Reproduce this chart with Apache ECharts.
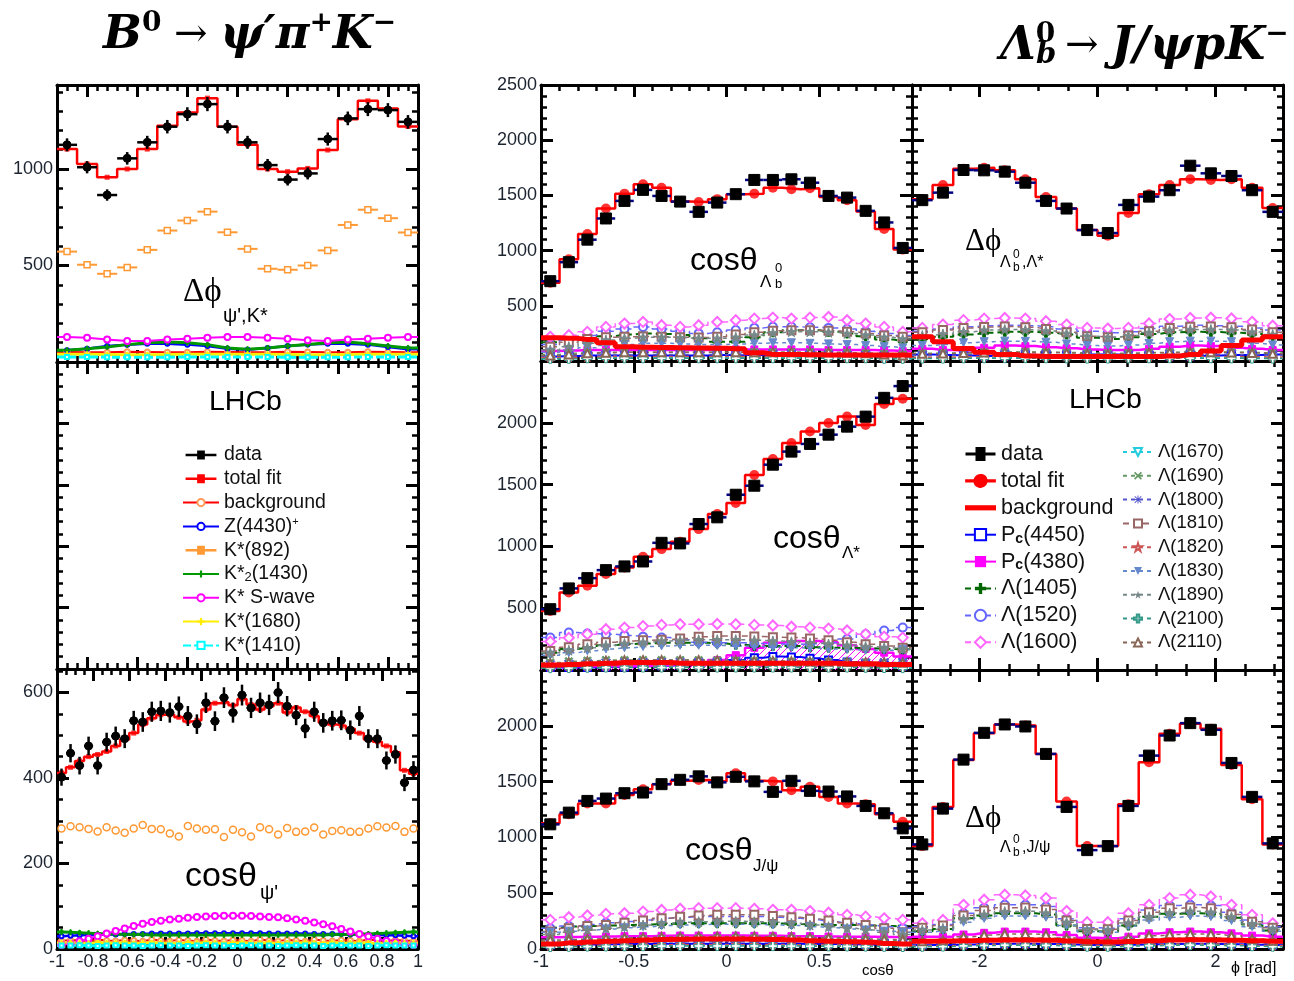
<!DOCTYPE html>
<html><head><meta charset="utf-8">
<script src="https://cdn.jsdelivr.net/npm/echarts@6/dist/echarts.min.js"></script>
<style>html,body{margin:0;padding:0;background:#fff}#c{width:1294px;height:981px}</style>
</head><body><div id="c"></div><script>
// ================= DATA =================
// B0 -> psi' pi+ K-  : Delta phi (18 bins, -180..180 deg)
const LT_DATA  = [1125,1009,865,1055,1138,1219,1284,1336,1219,1138,1020,945,977,1155,1262,1310,1305,1244];
const LT_FIT   = [1103,1026,957,1000,1103,1224,1293,1367,1219,1125,1000,986,1003,1098,1258,1353,1313,1220];
const LT_K892  = [572,504,457,490,581,681,733,779,672,586,483,478,500,578,710,789,745,671];
const LT_BKG   = [52,50,51,53,52,50,51,53,52,50,51,53,52,50,51,53,52,50];
const LT_Z4430 = [61,69,83,90,95,95,90,83,69,64,73,83,91,95,95,90,78,66];
const LT_K1430 = [61,69,78,90,100,104,100,90,73,66,73,83,91,100,104,95,83,73];
const LT_SWAVE = [130,125,116,109,109,116,121,126,130,130,126,121,113,109,116,121,125,130];
const LT_K1680 = [40,40,39,38,38,39,40,40,40,40,40,39,38,38,39,40,40,40];
const LT_K1410 = [26,26,25,25,25,25,26,26,26,26,26,25,25,25,25,26,26,26];
// B0 : cos theta psi' (40 bins, -1..1)
const LB_DATA  = [402,458,429,475,429,484,498,492,534,531,555,557,553,567,545,526,576,533,588,553,594,564,576,571,600,568,547,516,555,529,534,535,512,545,492,492,441,455,389,419];
const LB_FIT   = [412,425,440,450,455,462,475,490,505,525,540,548,548,542,532,535,560,575,578,570,585,572,560,568,575,553,565,555,545,530,525,522,515,505,490,485,475,460,418,410];
const LB_K892  = [282,287,285,281,275,285,277,272,282,290,281,280,270,263,288,282,279,280,262,279,273,263,285,280,268,283,274,275,284,268,276,278,274,274,282,287,284,288,274,282];
const LB_BKG   = [19,21,20,18,22,20,19,21,20,18,22,20,19,21,20,18,22,20,19,21,20,18,22,20,19,21,20,18,22,20,19,21,20,18,22,20,19,21,20,19];
const LB_Z4430 = [30,31,32,33,33,34,34,35,35,35,36,36,36,36,36,37,37,37,37,37,37,37,37,36,36,36,36,36,35,35,35,35,34,34,33,33,32,32,31,30];
const LB_K1430 = [40,39,38,37,36,35,35,34,34,34,33,33,33,33,33,33,33,33,33,33,33,33,33,33,33,33,33,33,33,33,34,34,34,35,35,36,37,38,39,40];
const LB_SWAVE = [10,13,18,24,30,36,42,48,54,59,63,66,69,71,73,75,76,77,78,78,78,77,76,75,74,72,69,66,62,58,53,47,41,35,29,24,19,15,12,10];
const LB_K1680 = [14,15,14,13,15,14,14,15,13,14,15,14,14,13,15,14,15,14,13,14,15,14,14,15,13,14,14,15,14,13,15,14,14,15,14,13,14,15,14,14];
const LB_K1410 = [8,8,9,8,7,8,9,8,8,7,8,9,8,8,7,8,9,8,8,7,8,9,8,8,7,8,9,8,8,7,8,9,8,8,7,8,9,8,8,8];

// Lambda_b -> J/psi p K- : cos theta Lambda_b (20 bins)
const TL_DATA   = [723,895,1099,1291,1450,1550,1495,1444,1351,1435,1511,1640,1640,1646,1615,1495,1480,1360,1255,1024];
const TL_FIT    = [709,922,1150,1381,1516,1601,1570,1444,1441,1466,1511,1516,1570,1556,1565,1486,1457,1354,1195,1009];
const TL_BKG    = [210,205,195,165,130,125,122,120,118,115,112,75,60,58,56,55,55,55,55,55];
const TL_PC4450 = [40,45,50,50,50,50,50,50,50,55,55,55,55,55,55,50,50,50,45,40];
const TL_PC4380 = [90,95,100,100,100,100,100,100,100,105,105,105,105,105,105,100,100,100,95,90];
const TL_L1405  = [170,195,205,225,240,249,245,235,205,175,175,215,260,279,279,265,249,225,195,180];
const TL_L1520  = [150,190,230,270,290,309,290,270,250,260,280,300,310,310,305,300,290,270,250,230];
const TL_L1600  = [219,234,264,309,339,354,324,309,324,354,369,384,393,384,393,399,369,339,309,264];
const TL_L1670  = [20,25,30,30,35,35,35,35,35,35,35,35,35,35,30,30,30,25,25,20];
const TL_L1690  = [60,70,75,80,80,80,80,80,80,80,80,80,80,80,80,75,75,70,65,60];
const TL_L1800  = [40,45,50,55,55,60,60,60,60,60,60,60,60,60,55,55,50,50,45,40];
const TL_L1810  = [130,170,200,215,219,222,219,215,212,219,240,260,275,279,279,275,265,249,230,219];
const TL_L1820  = [30,35,35,40,40,40,40,40,40,40,40,40,40,40,40,40,35,35,30,30];
const TL_L1830  = [80,100,120,140,150,160,160,155,150,150,155,160,165,165,160,155,150,140,130,120];
const TL_L1890  = [100,130,160,190,205,215,215,210,205,205,215,235,255,265,265,260,250,235,215,200];
const TL_L2100  = [20,20,25,25,25,25,25,25,25,25,25,25,25,25,25,25,25,25,20,20];
const TL_L2110  = [50,60,70,75,80,80,80,80,80,80,80,80,80,80,80,80,75,70,60,50];
// Delta phi Lambda_b, Lambda* (18 bins, -pi..pi)
const TR_DATA   = [1457,1525,1730,1727,1715,1615,1450,1381,1186,1159,1414,1489,1547,1769,1700,1676,1547,1351];
const TR_FIT    = [1466,1595,1741,1750,1727,1646,1486,1381,1186,1135,1340,1511,1595,1646,1640,1646,1570,1385];
const TR_BKG    = [219,174,114,80,60,45,40,40,40,40,40,40,45,60,90,140,190,219];
const TR_PC4450 = [60,55,50,45,45,50,55,55,60,60,55,50,45,45,50,55,55,60];
const TR_PC4380 = [110,100,95,120,140,135,125,115,105,100,100,110,130,140,135,120,110,100];
const TR_L1405  = [200,220,240,255,264,264,255,240,210,200,215,245,260,264,262,255,245,225];
const TR_L1520  = [270,290,310,320,324,320,310,290,270,255,265,295,315,324,320,315,300,280];
const TR_L1600  = [300,330,370,384,390,384,360,330,300,294,300,340,380,390,392,385,355,320];
const TR_L1670  = [30,30,32,34,35,35,34,32,30,30,32,34,35,35,34,32,30,30];
const TR_L1690  = [70,72,76,80,82,82,80,76,72,70,72,76,80,82,82,80,76,72];
const TR_L1800  = [50,52,56,60,62,62,60,56,52,50,52,56,60,62,62,60,56,52];
const TR_L1810  = [260,280,300,309,312,305,290,260,225,215,230,270,300,310,312,305,285,260];
const TR_L1820  = [35,36,38,40,42,42,40,38,36,35,36,38,40,42,42,40,38,36];
const TR_L1830  = [140,150,165,175,180,178,170,155,140,135,145,160,175,180,180,175,160,145];
const TR_L1890  = [230,245,265,280,285,282,272,250,225,215,230,258,278,285,286,280,262,240];
const TR_L2100  = [22,22,24,25,26,26,25,24,22,22,24,25,26,26,25,24,22,22];
const TR_L2110  = [65,68,72,78,80,80,78,72,66,64,68,74,78,80,80,78,72,66];
// cos theta Lambda* (20 bins)
const ML_DATA   = [492,660,743,808,838,878,1029,1024,1181,1235,1418,1491,1661,1767,1829,1904,1969,2050,2202,2297];
const ML_FIT    = [478,627,681,776,830,916,978,1037,1140,1262,1351,1578,1707,1837,1929,1999,2050,1983,2153,2194];
const ML_BKG    = [40,45,50,55,60,60,60,55,55,55,55,55,55,55,55,55,50,50,45,45];
const ML_PC4450 = [20,20,20,25,25,30,35,40,50,60,80,100,110,105,95,80,65,50,40,30];
const ML_PC4380 = [30,30,30,30,30,35,40,50,60,80,120,180,220,235,235,225,200,170,140,110];
const ML_L1405  = [140,170,181,200,210,215,221,221,221,215,205,195,194,194,185,181,181,175,170,167];
const ML_L1520  = [262,303,295,289,280,270,262,245,225,221,220,215,210,208,212,221,250,289,320,343];
const ML_L1600  = [230,260,290,330,343,355,365,370,370,372,370,365,360,350,343,335,320,290,270,262];
const ML_L1670  = [15,18,20,22,25,25,25,25,25,25,25,25,25,25,25,25,22,20,18,15];
const ML_L1690  = [60,70,75,80,80,80,80,80,80,78,76,74,72,70,68,66,64,62,60,58];
const ML_L1800  = [40,45,50,55,58,60,60,60,60,58,56,54,52,50,50,50,52,55,58,60];
const ML_L1810  = [154,185,208,225,235,240,245,255,270,275,275,272,265,262,255,240,225,208,195,181];
const ML_L1820  = [25,28,30,32,34,35,35,35,35,35,35,34,33,32,31,30,30,30,30,30];
const ML_L1830  = [120,140,155,170,180,190,195,200,200,198,195,190,185,180,175,170,165,160,160,165];
const ML_L1890  = [140,160,180,200,215,225,235,240,245,245,245,240,235,228,220,210,200,190,180,170];
const ML_L2100  = [15,16,18,20,20,20,20,20,20,20,20,20,20,20,20,20,20,18,16,15];
const ML_L2110  = [55,62,70,75,78,80,80,80,80,78,76,74,72,70,68,66,64,62,60,58];
// cos theta J/psi (20 bins)
const BL_DATA   = [1117,1222,1327,1348,1396,1402,1477,1516,1547,1493,1543,1502,1408,1507,1417,1411,1367,1282,1216,1081];
const BL_FIT    = [1126,1207,1304,1304,1381,1432,1477,1507,1514,1502,1574,1507,1502,1423,1453,1363,1304,1297,1207,1141];
const BL_BKG    = [45,55,62,70,75,80,85,88,90,90,90,88,85,80,75,70,65,60,50,45];
const BL_PC4450 = [35,38,40,42,44,45,46,47,48,48,48,48,47,46,45,44,42,40,38,35];
const BL_PC4380 = [105,108,110,112,115,115,118,120,120,120,120,118,118,115,115,112,110,110,108,105];
const BL_L1405  = [190,201,205,210,216,220,225,231,231,231,231,231,228,225,220,216,216,210,205,201];
const BL_L1520  = [186,205,220,235,246,260,275,285,291,291,291,291,285,275,261,245,230,215,200,186];
const BL_L1600  = [261,285,300,315,321,335,350,360,366,366,366,360,351,351,340,325,306,290,275,261];
const BL_L1670  = [25,28,30,32,34,35,35,36,36,36,36,36,36,35,35,34,32,30,28,25];
const BL_L1690  = [70,75,80,84,88,90,92,94,95,95,95,95,94,92,90,88,84,80,75,70];
const BL_L1800  = [45,50,54,58,60,62,64,65,66,66,66,66,65,64,62,60,58,54,50,45];
const BL_L1810  = [156,185,205,216,235,255,275,290,300,306,306,306,296,285,270,255,235,215,186,150];
const BL_L1820  = [28,30,32,34,36,38,39,40,40,40,40,40,40,39,38,36,34,32,30,28];
const BL_L1830  = [150,160,170,180,190,200,210,215,220,222,222,220,215,210,200,190,180,170,160,150];
const BL_L1890  = [130,150,170,185,200,215,230,240,245,248,248,245,240,230,215,200,185,170,150,130];
const BL_L2100  = [18,20,22,23,24,25,26,26,27,27,27,27,26,26,25,24,23,22,20,18];
const BL_L2110  = [80,85,90,95,100,104,108,110,112,112,112,112,110,108,104,100,95,90,85,80];
// Delta phi Lambda_b, J/psi (18 bins)
const BR_DATA   = [937,1258,1697,1937,2012,1994,1748,1273,886,922,1282,1733,1913,2024,1964,1667,1363,946];
const BR_FIT    = [922,1273,1694,1934,2012,2003,1748,1322,922,922,1297,1673,1928,2018,1973,1649,1342,937];
const BR_BKG    = [70,72,75,78,80,80,78,72,65,62,68,75,80,82,80,78,75,70];
const BR_PC4450 = [35,36,40,44,46,46,44,40,36,35,39,43,45,46,45,42,38,35];
const BR_PC4380 = [110,110,130,145,156,156,150,125,100,96,110,140,150,156,150,140,120,110];
const BR_L1405  = [160,180,276,300,321,321,310,210,160,156,210,290,315,321,315,280,220,165];
const BR_L1520  = [200,220,320,370,396,396,380,270,190,186,270,350,390,396,390,330,260,200];
const BR_L1600  = [230,260,396,441,486,480,456,340,240,240,320,396,456,486,471,396,306,230];
const BR_L1670  = [25,28,35,40,42,42,40,34,26,25,32,38,41,42,41,37,30,26];
const BR_L1690  = [60,65,85,95,100,100,96,80,62,60,78,92,98,100,98,90,72,62];
const BR_L1800  = [45,50,62,70,74,74,70,58,46,45,56,66,72,74,72,66,54,46];
const BR_L1810  = [190,210,300,345,370,372,355,255,180,178,255,330,365,372,365,310,245,190];
const BR_L1820  = [28,30,38,42,45,45,42,36,30,28,35,40,44,45,44,40,34,30];
const BR_L1830  = [150,165,240,275,295,296,285,210,155,150,205,260,285,296,290,255,200,160];
const BR_L1890  = [170,185,270,310,335,338,322,240,172,168,232,290,322,338,330,288,225,178];
const BR_L2100  = [20,22,28,32,34,34,32,27,21,20,26,30,33,34,33,30,25,21];
const BR_L2110  = [70,78,110,125,134,135,128,98,72,70,95,118,130,135,132,116,90,74];

const L_NAMES = ['background','Z(4430)+','K*2(1430)','K* S-wave','K*(1680)','K*(1410)'];
const R_NAMES = ['background ','Pc(4450)','Pc(4380)','Λ(1405)','Λ(1520)','Λ(1600)','Λ(1670)','Λ(1690)','Λ(1800)','Λ(1810)','Λ(1820)','Λ(1830)','Λ(1890)','Λ(2100)','Λ(2110)'];

// ================= STYLE =================
const PI = Math.PI;
const PLUS = 'path://M3.5,0H6.5V3.5H10V6.5H6.5V10H3.5V6.5H0V3.5H3.5Z';
const XMARK = 'path://M1.5,0L5,3.5L8.5,0L10,1.5L6.5,5L10,8.5L8.5,10L5,6.5L1.5,10L0,8.5L3.5,5L0,1.5Z';
const STAR = 'path://M5,0L6.18,3.6H10L6.9,5.8L8.1,9.5L5,7.2L1.9,9.5L3.1,5.8L0,3.6H3.82Z';
const DTRI = 'path://M0,0H10L5,9Z';
const ASTER = 'path://M4.4,0H5.6V4.4H10V5.6H5.6V10H4.4V5.6H0V4.4H4.4Z M1.3,0.5L5,4.2L8.7,0.5L9.5,1.3L5.8,5L9.5,8.7L8.7,9.5L5,5.8L1.3,9.5L0.5,8.7L4.2,5L0.5,1.3Z';
const ICON_LPT = 'path://M0,3.5H9V1H15V3.5H24V5.5H15V8H9V5.5H0Z';
const ICON_RDATA = 'path://M0,5.5H10V0H20V5.5H30V8.5H20V14H10V8.5H0Z';
const ICON_RFIT = 'path://M0,5.5H8.2A7,7 0 0 1 21.8,5.5H30V8.5H21.8A7,7 0 0 1 8.2,8.5H0Z';
const ICON_RBKG = 'path://M0,0H30V5H0Z';

const L_STYLE = [
  {color:'#ff0000', width:2, symbol:'emptyCircle', size:5, fill:'#ff9a5a'},
  {color:'#0000ff', width:2.5, symbol:'emptyCircle', size:4},
  {color:'#009900', width:3, symbol:PLUS, size:5},
  {color:'#ff00ff', width:2, symbol:'emptyCircle', size:6},
  {color:'#ffee00', width:3, symbol:PLUS, size:5},
  {color:'#00ffff', width:3, symbol:'emptyRect', size:4, dash:[8,3]}
];
const R_STYLE = [
  {color:'#ff0000', width:5, symbol:'none', size:0, z:3},
  {color:'#0000ff', width:2, symbol:'emptyRect', size:7},
  {color:'#ff00ff', width:2.5, symbol:'rect', size:7},
  {color:'#006600', width:2, symbol:PLUS, size:9, dash:[6,4]},
  {color:'#6666ff', width:1.5, symbol:'emptyCircle', size:8, dash:[6,4]},
  {color:'#ff66ff', width:1.5, symbol:'emptyDiamond', size:10, dash:[6,4]},
  {color:'#22ccdd', width:1.5, symbol:DTRI, size:8, dash:[4,4], hollow:true},
  {color:'#669966', width:1.5, symbol:XMARK, size:8, dash:[4,4]},
  {color:'#5555cc', width:1.5, symbol:ASTER, size:10, dash:[4,4]},
  {color:'#996666', width:1.5, symbol:'emptyRect', size:8, dash:[6,4]},
  {color:'#cc5555', width:1.5, symbol:STAR, size:9, dash:[4,4], hollow:true},
  {color:'#6688cc', width:1.5, symbol:DTRI, size:8, dash:[4,4]},
  {color:'#778888', width:1.5, symbol:STAR, size:10, dash:[4,4]},
  {color:'#339988', width:1.5, symbol:PLUS, size:9, dash:[4,4], hollow:true},
  {color:'#886655', width:1.5, symbol:'emptyTriangle', size:8, dash:[4,4]}
];

function hatch(color){
  const c = document.createElement('canvas'); c.width = c.height = 7;
  const x = c.getContext('2d'); x.strokeStyle = color; x.lineWidth = 1;
  x.beginPath(); x.moveTo(0,7); x.lineTo(7,0); x.stroke();
  return {image:c, repeat:'repeat'};
}

// ================= PANELS =================
const LEFT_PANELS = [
  {g:0, lo:-180, hi:180, data:LT_DATA, fit:LT_FIT, k892:LT_K892, k892Bar:true,
   comps:[LT_BKG, LT_Z4430, LT_K1430, LT_SWAVE, LT_K1680, LT_K1410]},
  {g:2, lo:-1, hi:1, data:LB_DATA, fit:LB_FIT, k892:LB_K892, k892Bar:false,
   comps:[LB_BKG, LB_Z4430, LB_K1430, LB_SWAVE, LB_K1680, LB_K1410]}
];
const RIGHT_PANELS = [
  {g:3, lo:-1, hi:1, data:TL_DATA, fit:TL_FIT, comps:[TL_BKG,TL_PC4450,TL_PC4380,TL_L1405,TL_L1520,TL_L1600,TL_L1670,TL_L1690,TL_L1800,TL_L1810,TL_L1820,TL_L1830,TL_L1890,TL_L2100,TL_L2110]},
  {g:4, lo:-PI, hi:PI, data:TR_DATA, fit:TR_FIT, comps:[TR_BKG,TR_PC4450,TR_PC4380,TR_L1405,TR_L1520,TR_L1600,TR_L1670,TR_L1690,TR_L1800,TR_L1810,TR_L1820,TR_L1830,TR_L1890,TR_L2100,TR_L2110]},
  {g:5, lo:-1, hi:1, data:ML_DATA, fit:ML_FIT, hatch:true, comps:[ML_BKG,ML_PC4450,ML_PC4380,ML_L1405,ML_L1520,ML_L1600,ML_L1670,ML_L1690,ML_L1800,ML_L1810,ML_L1820,ML_L1830,ML_L1890,ML_L2100,ML_L2110]},
  {g:7, lo:-1, hi:1, data:BL_DATA, fit:BL_FIT, comps:[BL_BKG,BL_PC4450,BL_PC4380,BL_L1405,BL_L1520,BL_L1600,BL_L1670,BL_L1690,BL_L1800,BL_L1810,BL_L1820,BL_L1830,BL_L1890,BL_L2100,BL_L2110]},
  {g:8, lo:-PI, hi:PI, data:BR_DATA, fit:BR_FIT, comps:[BR_BKG,BR_PC4450,BR_PC4380,BR_L1405,BR_L1520,BR_L1600,BR_L1670,BR_L1690,BR_L1800,BR_L1810,BR_L1820,BR_L1830,BR_L1890,BR_L2100,BR_L2110]}
];

// ================= BUILDERS =================
function pointSeries(g, name, lo, hi, vals, st){
  const n = vals.length, w = (hi-lo)/n;
  return {
    type:'custom', name, xAxisIndex:2*g, yAxisIndex:2*g, z:st.z||6, silent:true,
    itemStyle:{color: st.legendColor},
    data: vals.map((v,i)=>[lo+(i+0.5)*w, v, w/2]),
    renderItem(params, api){
      const x = api.value(0), y = api.value(1), hw = api.value(2);
      const p = api.coord([x,y]), l = api.coord([x-hw,y]), r = api.coord([x+hw,y]);
      const ch = [];
      if (st.hbar) ch.push({type:'line', shape:{x1:l[0],y1:p[1],x2:r[0],y2:p[1]}, style:{stroke:st.barColor, lineWidth:st.barWidth}});
      if (st.err){
        const e = Math.sqrt(y), t = api.coord([x,y+e]), b = api.coord([x,y-e]);
        ch.push({type:'line', shape:{x1:p[0],y1:t[1],x2:p[0],y2:b[1]}, style:{stroke:st.barColor, lineWidth:st.barWidth}});
      }
      const s = st.size;
      if (st.marker === 'rect') ch.push({type:'rect', shape:{x:p[0]-s/2, y:p[1]-s/2, width:s, height:s}, style:{fill:st.fill, stroke:st.stroke, lineWidth:st.lw||1}});
      else ch.push({type:'circle', shape:{cx:p[0], cy:p[1], r:s/2}, style:{fill:st.fill, stroke:st.stroke, lineWidth:st.lw||1}});
      return {type:'group', children:ch};
    }
  };
}
function stepSeries(g, name, lo, hi, vals, color, width, z){
  const n = vals.length, w = (hi-lo)/n, pts = [];
  vals.forEach((v,i)=>{ pts.push([lo+i*w, v]); pts.push([lo+(i+1)*w, v]); });
  return {type:'line', name, xAxisIndex:2*g, yAxisIndex:2*g, data:pts, symbol:'none', z, silent:true,
    lineStyle:{color, width}, itemStyle:{color}};
}
function markerSeries(g, name, lo, hi, vals, color, symbol, size, z){
  const n = vals.length, w = (hi-lo)/n;
  return {type:'scatter', name, xAxisIndex:2*g, yAxisIndex:2*g, z, silent:true, symbol, symbolSize:size,
    itemStyle:{color}, data: vals.map((v,i)=>[lo+(i+0.5)*w, v])};
}
function compSeries(g, name, lo, hi, vals, st, step, area){
  const n = vals.length, w = (hi-lo)/n;
  const data = [{value:[lo, vals[0]], symbol:'none'}];
  vals.forEach((v,i)=>data.push([lo+(i+0.5)*w, v]));
  data.push({value:[hi, vals[n-1]], symbol:'none'});
  const s = {type:'line', name, xAxisIndex:2*g, yAxisIndex:2*g, z:st.z||2, silent:true,
    step: step ? 'middle' : false, data, symbol:st.symbol, symbolSize:st.size, showAllSymbol:true,
    lineStyle:{color:st.color, width:st.width, type:st.dash||'solid'},
    itemStyle: st.hollow ? {color:'#fff', borderColor:st.color, borderWidth:1} : {color: st.fill||st.color, borderColor: st.fill||st.color}};
  if (area) s.areaStyle = {color: area, opacity: 1};
  return s;
}

const series = [];
LEFT_PANELS.forEach(P=>{
  P.comps.forEach((arr,k)=>series.push(compSeries(P.g, L_NAMES[k], P.lo, P.hi, arr, L_STYLE[k], false)));
  series.push(pointSeries(P.g, 'K*(892)', P.lo, P.hi, P.k892,
    {hbar:P.k892Bar, err:false, barColor:'#ff9933', barWidth:2, marker:P.k892Bar?'rect':'circle', size:P.k892Bar?6:7, fill:'#fff', stroke:'#ff9933', lw:1.5, legendColor:'#ff9933', z:3}));
  series.push(stepSeries(P.g, 'total fit', P.lo, P.hi, P.fit, '#ff0000', 2.5, 4));
  series.push(markerSeries(P.g, 'total fit', P.lo, P.hi, P.fit, '#ff0000', 'rect', 5, 4));
  series.push(pointSeries(P.g, 'data', P.lo, P.hi, P.data,
    {hbar:true, err:true, barColor:'#000', barWidth:2.5, marker:'circle', size:8, fill:'#000', stroke:'#000', legendColor:'#000', z:6}));
});
RIGHT_PANELS.forEach(P=>{
  P.comps.forEach((arr,k)=>{
    let area = null;
    if (P.hatch && k===1) area = hatch('#6a6aff');
    if (P.hatch && k===2) area = hatch('#ff00ff');
    series.push(compSeries(P.g, R_NAMES[k], P.lo, P.hi, arr, R_STYLE[k], true, area));
  });
  series.push(stepSeries(P.g, 'total fit ', P.lo, P.hi, P.fit, '#ff0000', 2.5, 4));
  series.push(markerSeries(P.g, 'total fit ', P.lo, P.hi, P.fit, '#ff0000', 'circle', 10, 4));
  series.push(pointSeries(P.g, 'data ', P.lo, P.hi, P.data,
    {hbar:true, err:true, barColor:'#000080', barWidth:2.5, marker:'rect', size:11, fill:'#000', stroke:'#000', legendColor:'#000', z:6}));
});

// ================= AXES =================
const GRIDS = [
  {left:57, top:85, width:361, height:277},
  {left:57, top:362, width:361, height:307},
  {left:57, top:669, width:361, height:280},
  {left:541, top:85, width:371, height:276},
  {left:912, top:85, width:371, height:276},
  {left:541, top:361, width:371, height:309},
  {left:912, top:361, width:371, height:309},
  {left:541, top:670, width:371, height:279},
  {left:912, top:670, width:371, height:279}
];
const XDEG = {min:-180, max:180, splitNumber:7, minor:5};
const XCOS1 = {min:-1, max:1, interval:0.2, minor:4};
const XCOS = {min:-1, max:1, interval:0.5, minor:5};
const XPHI = {min:-PI, max:PI, splitNumber:3, minor:4};
const YLEG = {min:0, max:5, interval:1, minor:5};
const AX = [
  {x:XDEG, y:{min:0, max:1435, interval:500, minor:5}, yl:{showMin:false, showMax:false}},
  {x:XDEG, y:YLEG},
  {x:XCOS1, y:{min:0, max:655, interval:200, minor:4}, xl:{showMin:true, showMax:true}, yl:{showMin:true, showMax:false}},
  {x:XCOS, y:{min:0, max:2500, interval:500, minor:5}, yl:{showMin:false, showMax:true}},
  {x:XPHI, y:{min:0, max:2500, interval:500, minor:5}},
  {x:XCOS, y:{min:0, max:2500, interval:500, minor:5}, yl:{showMin:false, showMax:false}},
  {x:XPHI, y:YLEG},
  {x:XCOS, y:{min:0, max:2500, interval:500, minor:5}, xl:{showMin:true, showMax:false}, yl:{showMin:true, showMax:false}},
  {x:XPHI, y:{min:0, max:2500, interval:500, minor:5}, xl:{showMin:false, showMax:false}}
];
function fmtTick(v){ return String(Math.round(v*100)/100); }
function mkAxis(g, pos, o, lab){
  const a = {type:'value', gridIndex:g, position:pos, min:o.min, max:o.max, silent:true,
    axisLine:{show:true, onZero:false, lineStyle:{color:'#000', width:3}},
    axisTick:{show:true, inside:true, length:12, lineStyle:{color:'#000', width:3}},
    minorTick:{show:true, splitNumber:o.minor, length:6, lineStyle:{color:'#000', width:2.5}},
    splitLine:{show:false}, minorSplitLine:{show:false},
    axisLabel: lab ? {show:true, color:'#1c2430', fontSize:18, fontFamily:'Liberation Sans', margin:4,
      formatter: fmtTick, showMinLabel:lab.showMin, showMaxLabel:lab.showMax, hideOverlap:false} : {show:false}};
  if (o.interval !== undefined) a.interval = o.interval;
  if (o.splitNumber !== undefined) a.splitNumber = o.splitNumber;
  return a;
}
const xAxis = [], yAxis = [];
AX.forEach((d,g)=>{
  xAxis.push(mkAxis(g, 'bottom', d.x, d.xl));
  xAxis.push(mkAxis(g, 'top', d.x, null));
  yAxis.push(mkAxis(g, 'left', d.y, d.yl));
  yAxis.push(mkAxis(g, 'right', d.y, null));
});

// ================= LEGENDS =================
const LF = '"Liberation Sans", Arial, sans-serif';
const legend = [
  {left:177, top:440, orient:'vertical', itemWidth:36, itemHeight:9, itemGap:3.8, selectedMode:false,
   textStyle:{fontFamily:LF, fontSize:19.5, color:'#111', lineHeight:20,
     rich:{sup:{fontFamily:LF, fontSize:11, verticalAlign:'top', lineHeight:10, color:'#111'},
           sub:{fontFamily:LF, fontSize:13, verticalAlign:'bottom', lineHeight:11, color:'#111'}}},
   formatter(n){ if(n==='Z(4430)+') return 'Z(4430){sup|+}'; if(n==='K*2(1430)') return 'K*{sub|2}(1430)'; return n; },
   data:[{name:'data', icon:ICON_LPT},{name:'total fit', icon:ICON_LPT},'background','Z(4430)+',{name:'K*(892)', icon:ICON_LPT},'K*2(1430)','K* S-wave','K*(1680)','K*(1410)']},
  {left:959, top:438, orient:'vertical', itemWidth:31, itemHeight:14, itemGap:4.9, selectedMode:false,
   textStyle:{fontFamily:LF, fontSize:21.5, color:'#111', lineHeight:22,
     rich:{sub:{fontFamily:LF, fontSize:14, fontWeight:'bold', verticalAlign:'bottom', lineHeight:12, color:'#111'}}},
   formatter(n){ if(n.indexOf('Pc(')===0) return 'P{sub|c}' + n.slice(2); return n; },
   data:[{name:'data ', icon:ICON_RDATA},{name:'total fit ', icon:ICON_RFIT},{name:'background ', icon:ICON_RBKG},'Pc(4450)','Pc(4380)','Λ(1405)','Λ(1520)','Λ(1600)']},
  {left:1117, top:437.5, orient:'vertical', itemWidth:30, itemHeight:10, itemGap:4.8, selectedMode:false,
   textStyle:{fontFamily:LF, fontSize:18.5, color:'#111', lineHeight:19},
   data:['Λ(1670)','Λ(1690)','Λ(1800)','Λ(1810)','Λ(1820)','Λ(1830)','Λ(1890)','Λ(2100)','Λ(2110)']}
];

// ================= TEXT =================
const SERIF = '"DejaVu Serif","Liberation Serif",serif';
const SERIF2 = '"Liberation Serif","DejaVu Serif",serif';
const SANS = '"Liberation Sans",Arial,sans-serif';
function T(text, left, top, font){ return {type:'text', left, top, silent:true, z:100, style:{text, font, fill:'#000'}}; }
const graphic = [
  {type:'text', left:103, top:10, silent:true, z:100, style:{
    text:'{m|B}{s|0}{a| → }{m|ψ′π}{s|+}{m|K}{s|−}', fill:'#000',
    rich:{m:{font:'bold italic 46px '+SERIF, lineHeight:52}, a:{font:'40px '+SERIF, lineHeight:52},
          s:{font:'bold 28px '+SERIF, verticalAlign:'top', lineHeight:28}}}},
  {type:'text', left:1000, top:21, silent:true, z:100, style:{
    text:'{m|Λ}{s|0 }{a|→ }{m|J/ψpK}{s|−}', fill:'#000',
    rich:{m:{font:'bold italic 46px '+SERIF, lineHeight:52}, a:{font:'40px '+SERIF, lineHeight:52},
          s:{font:'bold 28px '+SERIF, verticalAlign:'top', lineHeight:28}}}},
  T('b', 1036, 41, 'bold italic 29px '+SERIF),
  // annotations
  T('Δϕ', 183, 276, '33px '+SERIF2), T("ψ',K*", 223, 306, '20px '+SANS),
  T('cosθ', 185, 860, '34px '+SANS), T("ψ'", 260, 883, '20px '+SANS),
  T('cosθ', 690, 245, '32px '+SANS), T('Λ', 760, 274, '17px '+SANS), T('0', 775, 262, '13px '+SANS), T('b', 775, 278, '13px '+SANS),
  T('Δϕ', 965, 226, '31px '+SERIF2), T('Λ', 1000, 255, '16px '+SANS), T('0', 1013, 249, '12px '+SANS), T('b', 1013, 262, '12px '+SANS), T(',Λ*', 1022, 255, '16px '+SANS),
  T('cosθ', 773, 523, '32px '+SANS), T('Λ*', 842, 545, '17px '+SANS),
  T('cosθ', 685, 835, '32px '+SANS), T('J/ψ', 753, 858, '17px '+SANS),
  T('Δϕ', 965, 803, '31px '+SERIF2), T('Λ', 1000, 840, '16px '+SANS), T('0', 1013, 834, '12px '+SANS), T('b', 1013, 847, '12px '+SANS), T(',J/ψ', 1022, 840, '16px '+SANS),
  T('LHCb', 209, 388, '28.5px '+SANS), T('LHCb', 1069, 386, '28.5px '+SANS),
  T('cosθ', 862, 963, '15px '+SANS), T('ϕ [rad]', 1231, 961, '16px '+SANS)
];

const chart = echarts.init(document.getElementById('c'), null, {renderer:'canvas'});
chart.setOption({
  animation:false, backgroundColor:'#fff',
  grid: GRIDS.map(g=>Object.assign({outerBoundsMode:'none', containLabel:false}, g)),
  xAxis, yAxis, legend, series, graphic
});
</script></body></html>
